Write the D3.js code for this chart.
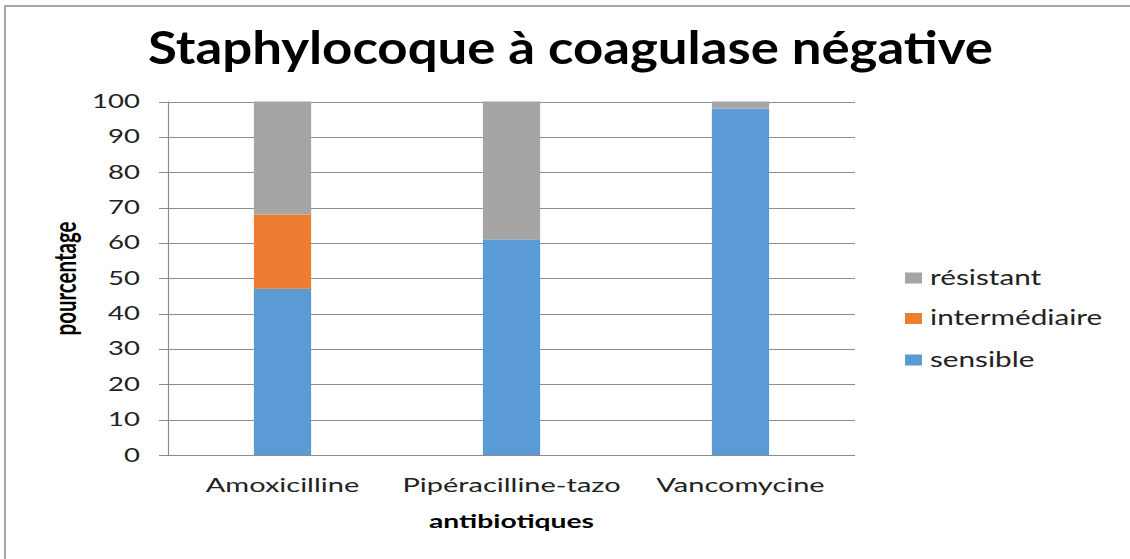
<!DOCTYPE html>
<html>
<head>
<meta charset="utf-8">
<script src="https://cdn.jsdelivr.net/npm/d3@7"></script>
<style>
  html, body { margin: 0; padding: 0; background: #fff; }
  svg { display: block; }
</style>
</head>
<body>
<svg id="chart" width="1130" height="559"></svg>
<script>
// ---- data ----
const categories = ["Amoxicilline", "Pipéracilline-tazo", "Vancomycine"];
const seriesNames = ["sensible", "intermédiaire", "résistant"];
const sensible = [47, 61, 98];
const intermediaire = [21, 0, 0];
const resistant = [32, 39, 2];
const yTicks = [0, 10, 20, 30, 40, 50, 60, 70, 80, 90, 100];
const seriesColors = ["#5B9BD5", "#ED7D31", "#A5A5A5"];
const titleText = "Staphylocoque à coagulase négative";
const xTitle = "antibiotiques";
const yTitle = "pourcentage";

// ---- layout ----
const svg = d3.select("#chart");
const W = 1130, H = 559;
const plot = { left: 168, right: 855, top: 101.5, bottom: 455 };
const SX = 1.45; // horizontal text stretch
const FONT = "Lato, 'Open Sans', sans-serif";

// border
svg.append("rect")
  .attr("x", 5).attr("y", 6).attr("width", W + 10).attr("height", H + 10)
  .attr("fill", "none").attr("stroke", "#8a8a8a").attr("stroke-width", 1.5);

const x = d3.scaleBand().domain(categories)
  .range([plot.left, plot.right]).paddingInner(0.75).paddingOuter(0.375);
const y = d3.scaleLinear().domain([0, 100]).range([plot.bottom, plot.top]);

// gridlines
svg.append("g").selectAll("line").data(yTicks).join("line")
  .attr("x1", plot.left - 9).attr("x2", plot.right)
  .attr("y1", d => Math.round(y(d)) + 0.5).attr("y2", d => Math.round(y(d)) + 0.5)
  .attr("stroke", "#8c8c8c").attr("stroke-width", 1.2);

// y axis line
svg.append("line")
  .attr("x1", plot.left + 0.5).attr("x2", plot.left + 0.5)
  .attr("y1", y(100)).attr("y2", y(0))
  .attr("stroke", "#8c8c8c").attr("stroke-width", 1.2);

// stacked bars
const table = categories.map((c, i) => ({
  cat: c, "sensible": sensible[i], "intermédiaire": intermediaire[i], "résistant": resistant[i]
}));
const stack = d3.stack().keys(seriesNames)(table);
svg.append("g").selectAll("g").data(stack).join("g")
  .attr("fill", (d, i) => seriesColors[i])
  .selectAll("rect").data(d => d).join("rect")
  .attr("x", d => x(d.data.cat))
  .attr("width", x.bandwidth())
  .attr("y", d => y(d[1]))
  .attr("height", d => Math.max(0, y(d[0]) - y(d[1])));

// helper for stretched text
function stretchedText(g, tx, ty, str, opts) {
  const t = g.append("text")
    .attr("transform", `translate(${tx},${ty}) scale(${opts.sx || SX},1)` + (opts.rotate ? ` rotate(${opts.rotate})` : ""))
    .attr("font-family", FONT)
    .attr("font-size", opts.size)
    .attr("font-weight", opts.weight || "normal")
    .attr("fill", opts.fill || "#000")
    .attr("text-anchor", opts.anchor || "start")
    .text(str);
  return t;
}

// y tick labels
const yl = svg.append("g");
yTicks.forEach(v => stretchedText(yl, 140, y(v) + 6.5, String(v),
  { size: 19, anchor: "end", fill: "#222" }));

// x tick labels
const xl = svg.append("g");
categories.forEach(c => stretchedText(xl, x(c) + x.bandwidth() / 2, 492, c,
  { size: 20, anchor: "middle", fill: "#222" }));

// axis titles
stretchedText(svg, (plot.left + plot.right) / 2, 528, xTitle,
  { size: 19.5, weight: "bold", anchor: "middle" });
stretchedText(svg, 76, 278.5, yTitle,
  { size: 20.5, weight: "bold", anchor: "middle", rotate: -90 });

// title
svg.append("text")
  .attr("x", 148).attr("y", 64)
  .attr("font-family", FONT).attr("font-size", 45).attr("font-weight", "bold")
  .attr("textLength", 845).attr("lengthAdjust", "spacingAndGlyphs")
  .text(titleText);

// legend (reverse order: résistant top)
const legendOrder = [2, 1, 0];
const legendY = [278, 318.5, 360];
const lg = svg.append("g");
legendOrder.forEach((si, k) => {
  lg.append("rect")
    .attr("x", 905).attr("y", legendY[k] - 5.5)
    .attr("width", 17).attr("height", 11)
    .attr("fill", seriesColors[si]);
  stretchedText(lg, 930, legendY[k] + 6.5, seriesNames[si], { size: 20.5, fill: "#222" });
});
</script>
</body>
</html>
